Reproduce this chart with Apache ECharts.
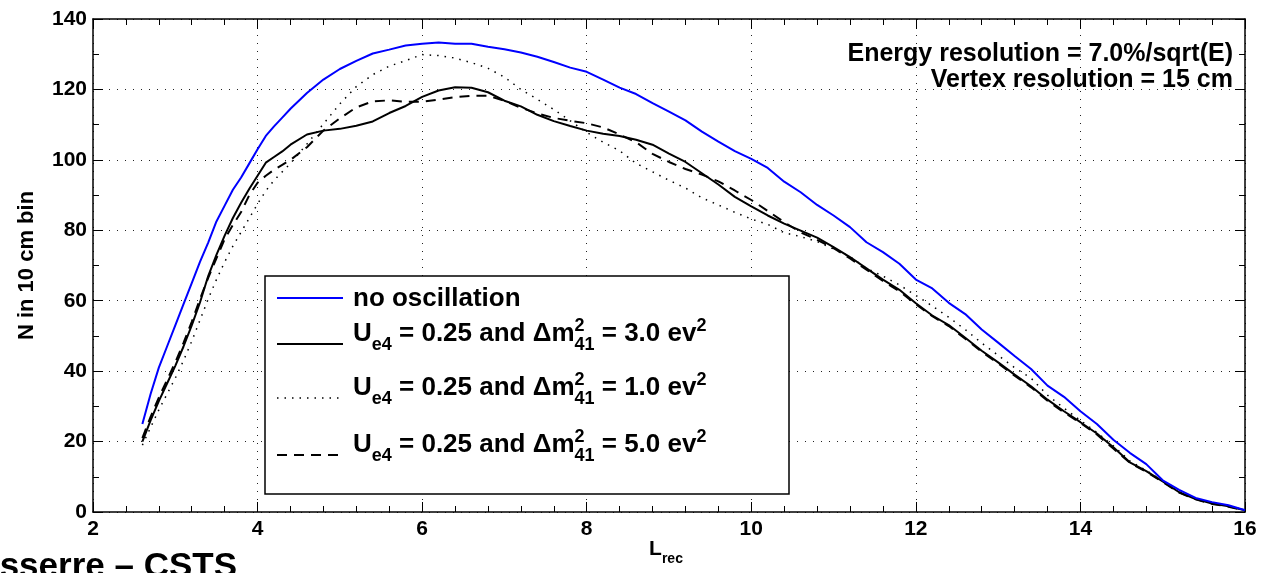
<!DOCTYPE html>
<html>
<head>
<meta charset="utf-8">
<script src="https://cdn.jsdelivr.net/npm/echarts@6/dist/echarts.min.js"></script>
<style>
  html, body { margin: 0; padding: 0; background: #fff; }
  #chart { width: 1262px; height: 573px; }
</style>
</head>
<body>
<div id="chart"></div>
<script>
// ---- data ----
const xValues = [2.6,2.7,2.8,2.9,3.0,3.1,3.2,3.3,3.4,3.5,
  3.6,3.7,3.8,3.9,4.0,4.1,4.2,4.3,4.4,
  4.6,4.8,5.0,5.2,5.4,5.6,5.8,6.0,6.2,6.4,
  6.6,6.8,7.0,7.2,7.4,7.6,7.8,8.0,8.2,8.4,
  8.6,8.8,9.0,9.2,9.4,9.6,9.8,10.0,10.2,10.4,
  10.6,10.8,11.0,11.2,11.4,11.6,11.8,12.0,12.2,12.4,
  12.6,12.8,13.0,13.2,13.4,13.6,13.8,14.0,14.2,14.4,
  14.6,14.8,15.0,15.2,15.4,15.6,15.8,16.0];

const noOscillation = [25,33.5,41,47,53,59,65,71,76.5,82.5,
  87,91.5,95,99,103,106.8,109.5,112,114.5,
  119,122.8,125.8,128.1,130.2,131.3,132.5,133.0,133.3,133.0,
  133.0,132.1,131.4,130.5,129.3,127.8,126.2,125.0,122.8,120.5,
  118.7,116.1,113.7,111.2,108.0,105.2,102.5,100.3,97.7,93.8,
  90.8,87.2,84.2,80.9,76.6,73.8,70.5,66.0,63.5,59.4,
  56.2,51.8,48.1,44.3,40.6,35.9,32.7,28.6,25.0,20.5,
  16.8,13.6,9.0,6.3,4.0,2.8,1.9,0.5];

const dm3 = [20,26,31.5,36.5,41.5,47,53,59.5,67,73,
  78.5,83.5,87.8,91.8,95.5,99.2,100.8,102.4,104.3,
  107.2,108.3,108.8,109.7,110.9,113.3,115.3,117.9,119.7,120.6,
  120.5,119.2,116.8,115.2,112.8,111.0,109.6,108.3,107.4,106.8,
  105.7,104.3,101.8,99.4,96.2,93.0,89.5,86.8,84.2,81.9,
  79.9,77.9,75.2,72.4,69.2,66.0,63.1,59.3,55.8,53.1,
  49.5,45.8,42.5,39.0,35.7,31.9,28.6,25.5,22.3,18.4,
  14.1,11.6,8.7,5.6,3.7,2.4,1.6,0.5];

const dm1 = [19,24,29,33.5,38,43,48.5,54.5,60.5,66,
  71,75.5,79.5,83.5,87.5,91.2,94.2,96.6,99.0,
  104.5,110.2,115.9,120.8,124.2,126.6,128.2,129.9,129.6,128.9,
  127.6,126.0,123.5,120.0,117.2,114.3,111.1,107.8,105.0,102.6,
  99.0,96.6,94.2,92.0,89.2,87.2,85.1,83.2,81.7,79.3,
  78.2,76.8,74.7,72.5,69.2,67.0,64.5,61.5,58.5,55.3,
  51.8,48.0,44.5,41.0,38.0,33.2,29.5,26.0,22.6,18.8,
  14.5,11.8,8.8,5.8,3.8,2.5,1.7,0.5];

const dm5 = [21,27,32.5,37.5,42.5,48,54,60.5,66.5,72,
  77.5,81.5,85.2,90,93.5,95.5,97.2,98.6,100.0,
  103.6,108.3,111.8,114.9,116.6,116.9,116.5,116.5,117.1,117.8,
  118.2,118.2,116.8,114.8,113.2,111.9,111.1,110.4,109.2,107.2,
  105.0,101.7,99.4,97.4,95.8,93.9,91.3,88.6,85.5,82.3,
  79.4,77.3,74.9,72.0,68.8,65.6,62.7,59.0,55.6,52.8,
  49.2,45.5,42.2,38.7,35.4,31.6,28.3,25.3,22.0,18.0,
  14.0,11.4,8.5,5.5,3.6,2.3,1.5,0.4];

const seriesNames = ['no oscillation', 'Ue4 = 0.25, dm41 = 3.0', 'Ue4 = 0.25, dm41 = 1.0', 'Ue4 = 0.25, dm41 = 5.0'];
const xTicks = { min: 2, max: 16, interval: 2 };
const yTicks = { min: 0, max: 140, interval: 20 };
const annotations = ['Energy resolution = 7.0%/sqrt(E)', 'Vertex resolution = 15 cm'];

// ---- helpers ----
const FAMILY = '"Liberation Sans", Arial, Helvetica, sans-serif';
const mctx = document.createElement('canvas').getContext('2d');
function tw(text, size) {
  mctx.font = 'bold ' + size + 'px ' + FAMILY;
  return mctx.measureText(text).width;
}
function txt(x, baseline, text, size, align) {
  return {
    type: 'text', x: x, y: baseline - 0.34 * size, silent: true,
    style: {
      text: text, fill: '#000',
      font: 'bold ' + size + 'px ' + FAMILY,
      textAlign: align || 'left', align: align || 'left',
      textVerticalAlign: 'middle', verticalAlign: 'middle'
    }
  };
}
// parts: {t, s, dy} or {sup, sub, s, up, down}
function richRow(x, baseline, parts, baseSize) {
  const out = [];
  let cx = x;
  parts.forEach(p => {
    const s = p.s || baseSize;
    if (p.sup !== undefined) {
      out.push(txt(cx, baseline + p.up, p.sup, s));
      out.push(txt(cx, baseline + p.down, p.sub, s));
      cx += Math.max(tw(p.sup, s), tw(p.sub, s));
    } else {
      out.push(txt(cx, baseline + (p.dy || 0), p.t, s));
      cx += tw(p.t, s);
    }
  });
  return out;
}
function rowWidth(parts, baseSize) {
  let w = 0;
  parts.forEach(p => {
    const s = p.s || baseSize;
    if (p.sup !== undefined) w += Math.max(tw(p.sup, s), tw(p.sub, s));
    else w += tw(p.t, s);
  });
  return w;
}

const LF = 26, SF = 18;
function oscRow(dmVal) {
  return [
    { t: 'U' }, { t: 'e4', s: SF, dy: 8 },
    { t: ' = 0.25 and \u0394m' },
    { sup: '2', sub: '41', s: SF, up: -11, down: 8 },
    { t: ' = ' + dmVal + ' ev' }, { t: '2', s: SF, dy: -11 }
  ];
}

const chart = echarts.init(document.getElementById('chart'), null, { renderer: 'canvas' });

const axisLabelStyle = { color: '#000', fontWeight: 'bold', fontSize: 21, fontFamily: FAMILY };
const dotted = { color: '#222', width: 1, type: [1, 7] };

function xAxisDef(pos, labels) {
  return {
    type: 'value', position: pos, min: xTicks.min, max: xTicks.max, interval: xTicks.interval,
    axisLine: { show: true, onZero: false, lineStyle: { color: '#000', width: 1.5 } },
    axisTick: { show: true, inside: true, length: 10, lineStyle: { color: '#000', width: 1 } },
    minorTick: { show: true, splitNumber: 5, length: 6, lineStyle: { color: '#000', width: 1 } },
    splitLine: { show: labels, lineStyle: dotted },
    axisLabel: Object.assign({ show: labels, margin: 7 }, axisLabelStyle)
  };
}
function yAxisDef(pos, labels) {
  return {
    type: 'value', position: pos, min: yTicks.min, max: yTicks.max, interval: yTicks.interval,
    axisLine: { show: true, onZero: false, lineStyle: { color: '#000', width: 1.5 } },
    axisTick: { show: true, inside: true, length: 10, lineStyle: { color: '#000', width: 1 } },
    minorTick: { show: true, splitNumber: 2, length: 6, lineStyle: { color: '#000', width: 1 } },
    splitLine: { show: labels, lineStyle: dotted },
    axisLabel: Object.assign({ show: labels, margin: 6 }, axisLabelStyle)
  };
}

const yAx = yAxisDef('left', true);
yAx.name = 'N in 10 cm bin';
yAx.nameLocation = 'middle';
yAx.nameRotate = 90;
yAx.nameGap = 55;
yAx.nameTextStyle = { color: '#000', fontWeight: 'bold', fontSize: 22, fontFamily: FAMILY };

function mk(arr) { return xValues.map((x, i) => [x, arr[i]]); }

// ---- graphic: legend, annotations, labels ----
const graphics = [];
const LB = { x: 265, y: 276, w: 524, h: 218 };
graphics.push({ type: 'rect', shape: { x: LB.x, y: LB.y, width: LB.w, height: LB.h },
  style: { fill: '#fff', stroke: '#000', lineWidth: 1.5 }, z: 100 });
const sampleX1 = 277, sampleX2 = 343, textX = 353;
const legendRows = [
  { lineY: 298, base: 308, color: '#0000ff', dash: null, width: 2, parts: [{ t: seriesNames[0] }] },
  { lineY: 344, base: 343, color: '#000', dash: null, width: 2, parts: oscRow('3.0') },
  { lineY: 398, base: 397, color: '#000', dash: [1.5, 6], width: 1.5, parts: oscRow('1.0') },
  { lineY: 455, base: 454, color: '#000', dash: [10, 7], width: 2, parts: oscRow('5.0') }
];
legendRows.forEach(r => {
  graphics.push({ type: 'line', z: 101, silent: true,
    shape: { x1: sampleX1, y1: r.lineY, x2: sampleX2, y2: r.lineY },
    style: { stroke: r.color, lineWidth: r.width, lineDash: r.dash } });
  richRow(textX, r.base, r.parts, LF).forEach(g => { g.z = 101; graphics.push(g); });
});

// annotations (right aligned)
graphics.push(txt(1233, 63, annotations[0], 25, 'right'));
graphics.push(txt(1233, 89, annotations[1], 25, 'right'));

// x axis label L_rec
const lrecParts = [{ t: 'L' }, { t: 'rec', s: 14, dy: 8 }];
const lrecW = rowWidth(lrecParts, 21);
richRow(666 - lrecW / 2, 556, lrecParts, 21).forEach(g => graphics.push(g));

// bottom-left credit (cut off by the page edge)
graphics.push(txt(237, 579, 'T. Lasserre \u2013 CSTS', 35, 'right'));

const option = {
  animation: false,
  backgroundColor: '#fff',
  grid: { left: 93, right: 17, top: 19, bottom: 61, containLabel: false },
  xAxis: [xAxisDef('bottom', true), xAxisDef('top', false)],
  yAxis: [yAx, yAxisDef('right', false)],
  series: [
    { name: seriesNames[0], type: 'line', data: mk(noOscillation), showSymbol: false, symbol: 'none',
      lineStyle: { color: '#0000ff', width: 2 }, z: 5 },
    { name: seriesNames[1], type: 'line', data: mk(dm3), showSymbol: false, symbol: 'none',
      lineStyle: { color: '#000', width: 2 }, z: 4 },
    { name: seriesNames[2], type: 'line', data: mk(dm1), showSymbol: false, symbol: 'none',
      lineStyle: { color: '#000', width: 1.5, type: [1.5, 6] }, z: 3 },
    { name: seriesNames[3], type: 'line', data: mk(dm5), showSymbol: false, symbol: 'none',
      lineStyle: { color: '#000', width: 2, type: [10, 7] }, z: 3 }
  ],
  graphic: graphics
};
chart.setOption(option);
</script>
</body>
</html>
